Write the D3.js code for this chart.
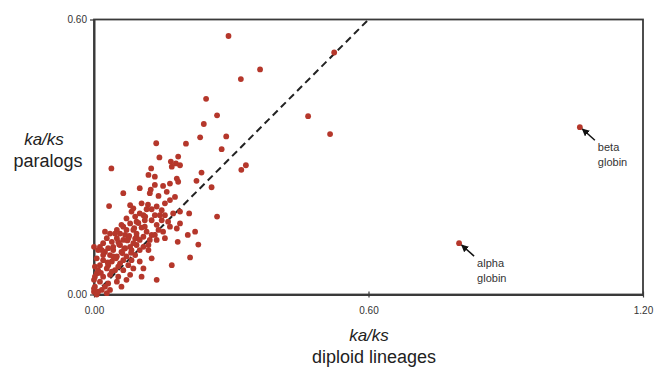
<!DOCTYPE html>
<html>
<head>
<meta charset="utf-8">
<script src="https://cdn.jsdelivr.net/npm/d3@7"></script>
<style>
  body { margin: 0; background: #fff; }
  svg { display: block; font-family: "Liberation Sans", Arial, sans-serif; }
</style>
</head>
<body>
<svg id="chart" width="656" height="368"></svg>
<script>
// ka/ks values: x = diploid lineages, y = paralogs
const diploidKaKs = [
  0.143, 0.184, 0.168, 0.179, 0.188, 0.170, 0.125, 0.038, 0.119, 0.133,
  0.181, 0.184, 0.235, 0.224, 0.166, 0.133, 0.151, 0.100, 0.124, 0.064,
  0.159, 0.141, 0.122, 0.177, 0.257, 0.166, 0.155, 0.104, 0.079, 0.086,
  0.033, 0.126, 0.137, 0.148, 0.082, 0.100, 0.108, 0.133, 0.090, 0.071,
  0.155, 0.173, 0.188, 0.208, 0.269, 0.148, 0.093, 0.079, 0.064, 0.050,
  0.024, 0.035, 0.057, 0.086, 0.111, 0.137, 0.166, 0.151, 0.141, 0.188,
  0.181, 0.221, 0.205, 0.126, 0.108, 0.093, 0.075, 0.064, 0.050, 0.039,
  0.020, 0.013, 0.031, 0.057, 0.079, 0.093, 0.119, 0.137, 0.155, 0.183,
  0.228, 0.108, 0.009, 0.024, 0.042, 0.060, 0.035, 0.050, 0.071, 0.090,
  0.126, 0.210, 0.006, 0.000, 0.020, 0.039, 0.057, 0.075, 0.170, 0.013,
  0.002, 0.028, 0.046, 0.064, 0.086, 0.108, 0.006, 0.020, 0.035, 0.053,
  0.079, 0.104, 0.137, 0.000, 0.013, 0.031, 0.050, 0.002, 0.017, 0.000,
  0.028, 0.006, 0.000,
  0.060, 0.071, 0.046, 0.068, 0.053, 0.028, 0.042, 0.068, 0.082, 0.100,
  0.020, 0.064, 0.082, 0.100, 0.031, 0.053, 0.009, 0.039, 0.071, 0.024,
  0.009, 0.093, 0.100, 0.115, 0.122, 0.133, 0.111, 0.126, 0.144, 0.162,
  0.119, 0.086, 0.042, 0.017, 0.002, 0.060, 0.035,
  0.077, 0.088, 0.055, 0.097, 0.112, 0.062, 0.048, 0.115, 0.073, 0.090,
  0.030, 0.015, 0.104, 0.118, 0.066, 0.081,
  0.294, 0.525, 0.363, 0.321, 0.245, 0.269, 0.468, 0.240, 0.516, 0.136,
  0.201, 0.232, 0.289, 0.279, 0.332, 0.322,
  0.798, 1.062
];
const paralogKaKs = [
  0.299, 0.301, 0.290, 0.286, 0.282, 0.279, 0.275, 0.275, 0.261, 0.257,
  0.253, 0.246, 0.266, 0.248, 0.242, 0.239, 0.237, 0.232, 0.229, 0.221,
  0.224, 0.215, 0.221, 0.213, 0.234, 0.206, 0.199, 0.199, 0.195, 0.188,
  0.193, 0.186, 0.192, 0.184, 0.181, 0.177, 0.173, 0.173, 0.170, 0.166,
  0.173, 0.177, 0.181, 0.177, 0.170, 0.162, 0.159, 0.155, 0.148, 0.141,
  0.137, 0.133, 0.133, 0.141, 0.148, 0.152, 0.148, 0.137, 0.141, 0.155,
  0.144, 0.137, 0.130, 0.130, 0.126, 0.126, 0.123, 0.119, 0.123, 0.115,
  0.112, 0.104, 0.101, 0.108, 0.104, 0.108, 0.108, 0.119, 0.123, 0.115,
  0.109, 0.104, 0.097, 0.093, 0.097, 0.093, 0.086, 0.083, 0.083, 0.086,
  0.079, 0.081, 0.079, 0.104, 0.075, 0.072, 0.068, 0.064, 0.064, 0.064,
  0.061, 0.057, 0.053, 0.053, 0.057, 0.057, 0.046, 0.039, 0.043, 0.039,
  0.043, 0.039, 0.032, 0.032, 0.028, 0.024, 0.028, 0.017, 0.010, 0.006,
  0.003, 0.000, 0.013,
  0.152, 0.141, 0.133, 0.130, 0.115, 0.123, 0.104, 0.101, 0.097, 0.097,
  0.086, 0.075, 0.075, 0.072, 0.064, 0.061, 0.053, 0.050, 0.032, 0.017,
  0.006, 0.133, 0.119, 0.137, 0.119, 0.130, 0.162, 0.162, 0.173, 0.159,
  0.097, 0.112, 0.083, 0.097, 0.039, 0.017, 0.010,
  0.128, 0.145, 0.109, 0.156, 0.170, 0.090, 0.079, 0.186, 0.118, 0.122,
  0.070, 0.047, 0.146, 0.196, 0.100, 0.091,
  0.564, 0.528, 0.491, 0.470, 0.427, 0.391, 0.389, 0.372, 0.350, 0.330,
  0.329, 0.343, 0.345, 0.317, 0.282, 0.272,
  0.112, 0.365
];

const xTicks = [0, 0.6, 1.2];
const yTicks = [0, 0.6];
const parityLine = [0, 0.6]; // y = x reference

// labelled outliers
const labelNames = [["alpha", "globin"], ["beta", "globin"]];
const labelX = [0.798, 1.062];
const labelY = [0.112, 0.365];

const points = diploidKaKs.map((d, i) => ({ x: d, y: paralogKaKs[i] }));

const svg = d3.select("#chart");
const plotLeft = 94, plotRight = 643, plotTop = 19.5, plotBottom = 294.5;

const x = d3.scaleLinear().domain([0, 1.2]).range([plotLeft, plotRight]);
const y = d3.scaleLinear().domain([0, 0.6]).range([plotBottom, plotTop]);

// frame
svg.append("rect")
  .attr("x", plotLeft).attr("y", plotTop)
  .attr("width", plotRight - plotLeft).attr("height", plotBottom - plotTop)
  .attr("fill", "none")
  .attr("stroke", "#3a3a3a")
  .attr("stroke-width", 1.8);

// axes
const xAxis = svg.append("g")
  .attr("transform", `translate(0,${plotBottom})`)
  .call(d3.axisBottom(x).tickValues(xTicks).tickFormat(d3.format(".2f")).tickSize(3).tickSizeOuter(0));
xAxis.select(".domain").attr("stroke", "#3a3a3a").attr("stroke-width", 2);
xAxis.selectAll(".tick line").attr("stroke", "#3a3a3a").attr("y1", -3).attr("stroke-width", 1.2);
xAxis.selectAll(".tick text").attr("y", 12).attr("fill", "#333").style("font-size", "10px");

const yAxis = svg.append("g")
  .attr("transform", `translate(${plotLeft},0)`)
  .call(d3.axisLeft(y).tickValues(yTicks).tickFormat(d3.format(".2f")).tickSize(4).tickSizeOuter(0));
yAxis.select(".domain").attr("stroke", "#3a3a3a").attr("stroke-width", 2);
yAxis.selectAll(".tick line").attr("stroke", "#3a3a3a").attr("stroke-width", 1.2);
yAxis.selectAll(".tick text").attr("x", -7).attr("fill", "#333").style("font-size", "10px");

// dashed parity line
svg.append("line")
  .attr("x1", x(parityLine[0])).attr("y1", y(parityLine[0]))
  .attr("x2", x(parityLine[1])).attr("y2", y(parityLine[1]))
  .attr("stroke", "#222")
  .attr("stroke-width", 2)
  .attr("stroke-dasharray", "7,4.5");

// points
svg.append("g").selectAll("circle")
  .data(points)
  .enter()
  .append("circle")
  .attr("cx", d => x(d.x))
  .attr("cy", d => y(d.y))
  .attr("r", 2.9)
  .attr("fill", "#b5372b");

// arrows for the globins
svg.append("defs").append("marker")
  .attr("id", "head")
  .attr("viewBox", "0 0 10 10")
  .attr("refX", 9).attr("refY", 5)
  .attr("markerWidth", 5).attr("markerHeight", 5)
  .attr("orient", "auto")
  .append("path")
  .attr("d", "M0,0L10,5L0,10z")
  .attr("fill", "#111");

labelNames.forEach((lines, i) => {
  const px = x(labelX[i]), py = y(labelY[i]);
  svg.append("line")
    .attr("x1", px + 15).attr("y1", py + 13)
    .attr("x2", px + 2.5).attr("y2", py + 1.8)
    .attr("stroke", "#111")
    .attr("stroke-width", 1.5)
    .attr("marker-end", "url(#head)");
  lines.forEach((t, j) => {
    svg.append("text")
      .attr("x", px + 18)
      .attr("y", py + 24 + j * 15)
      .attr("fill", "#333")
      .style("font-size", "11px")
      .text(t);
  });
});

// axis titles
svg.append("text")
  .attr("x", 369).attr("y", 341)
  .attr("text-anchor", "middle")
  .style("font-size", "17px").style("font-style", "italic")
  .attr("fill", "#222")
  .text("ka/ks");
svg.append("text")
  .attr("x", 374).attr("y", 363)
  .attr("text-anchor", "middle")
  .style("font-size", "18px")
  .attr("fill", "#222")
  .text("diploid lineages");

svg.append("text")
  .attr("x", 44).attr("y", 145)
  .attr("text-anchor", "middle")
  .style("font-size", "17px").style("font-style", "italic")
  .attr("fill", "#222")
  .text("ka/ks");
svg.append("text")
  .attr("x", 48).attr("y", 167)
  .attr("text-anchor", "middle")
  .style("font-size", "18px")
  .attr("fill", "#222")
  .text("paralogs");
</script>
</body>
</html>
